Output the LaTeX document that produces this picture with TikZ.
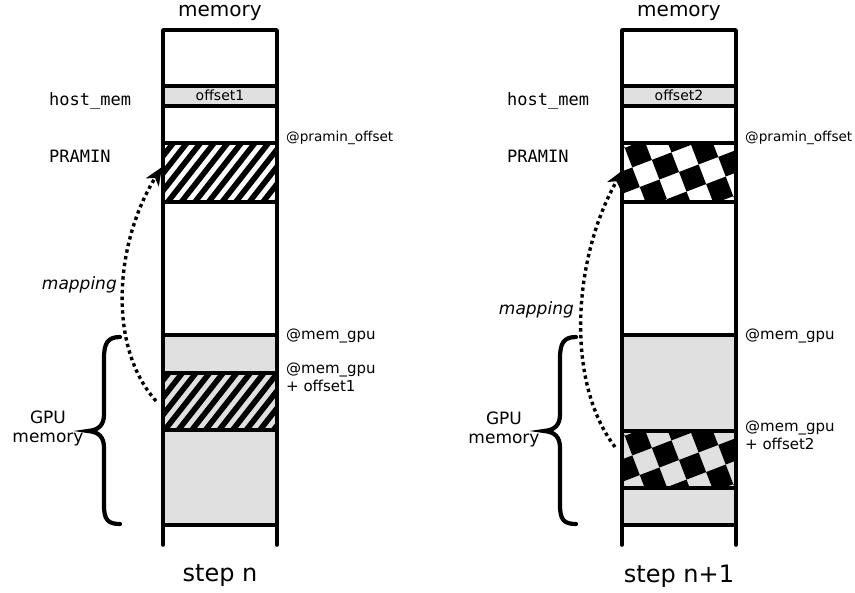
\documentclass[tikz,border=0pt]{standalone}
\usepackage{fontspec}
\setmainfont{DejaVu Sans}
\setmonofont{DejaVu Sans Mono}
\usetikzlibrary{arrows.meta}
\definecolor{memgray}{HTML}{E0E0E0}
\tikzset{
  col/.style={line width=3.6pt, line join=round, line cap=round},
  sepline/.style={line width=3.6pt},
  hatchline/.style={line width=5.6pt},
  lbl/.style={inner sep=0pt, font=\fontsize{15}{18}\selectfont},
  toplbl/.style={inner sep=0pt, font=\fontsize{20}{24}\selectfont},
  steplbl/.style={inner sep=0pt, font=\fontsize{24}{28}\selectfont},
  monolbl/.style={inner sep=0pt, font=\ttfamily\fontsize{17}{20}\selectfont},
  boxlbl/.style={inner sep=0pt, font=\fontsize{14}{17}\selectfont},
  offlbl/.style={inner sep=0pt, font=\fontsize{13.6}{16}\selectfont},
  siderlbl/.style={inner sep=0pt, font=\fontsize{17}{20}\selectfont},
  maplbl/.style={inner sep=0pt, font=\itshape\fontsize{17}{20}\selectfont},
  maparrow/.style={line width=3.4pt, dash pattern=on 3.4pt off 3.4pt, -{Stealth[length=18pt,width=15pt,inset=5pt]}},
  bracestyle/.style={line width=4.2pt, line cap=round},
}
\begin{document}
\begin{tikzpicture}[x=1pt,y=-1pt]
\useasboundingbox (0,0) rectangle (855,593);

% ---------------- left column (step n) ----------------
\fill[memgray] (163,86) rectangle (277,106);
\fill[memgray] (163,335) rectangle (277,525);
\begin{scope}
  \clip (163,143) rectangle (277,202);
  \fill[white] (163,143) rectangle (277,202);
  \foreach \i in {-6,...,10} \draw[hatchline] ({163+\i*13.6},208) -- ++(55,-70);
\end{scope}
\begin{scope}
  \clip (163,373) rectangle (277,430);
  \foreach \i in {-6,...,10} \draw[hatchline] ({160+\i*13.6},436) -- ++(55,-70);
\end{scope}
\foreach \yy in {86,106,143,202,335,373,430,525} \draw[sepline] (163,\yy) -- (277,\yy);
\draw[col] (163,545) -- (163,30) -- (277,30) -- (277,545);

% ---------------- right column (step n+1) ----------------
\fill[memgray] (622,86) rectangle (736,106);
\fill[memgray] (622,335) rectangle (736,525);
\begin{scope}
  \clip (622,143) rectangle (736,202);
  \fill[white] (622,143) rectangle (736,202);
  \begin{scope}[shift={(679,172)}, rotate=21]
    \foreach \i in {-5,...,4} \foreach \j in {-5,...,4} {
      \pgfmathtruncatemacro\chkpar{mod(\i+\j+20,2)}
      \ifnum\chkpar=0 \fill[black] ({\i*21},{\j*21}) rectangle ++(21,21); \fi
    }
  \end{scope}
\end{scope}
\begin{scope}
  \clip (622,431) rectangle (736,488);
  \fill[memgray] (622,431) rectangle (736,488);
  \begin{scope}[shift={(679,460)}, rotate=21]
    \foreach \i in {-5,...,4} \foreach \j in {-5,...,4} {
      \pgfmathtruncatemacro\chkpar{mod(\i+\j+20,2)}
      \ifnum\chkpar=0 \fill[black] ({\i*21},{\j*21}) rectangle ++(21,21); \fi
    }
  \end{scope}
\end{scope}
\foreach \yy in {86,106,143,202,335,431,488,525} \draw[sepline] (622,\yy) -- (736,\yy);
\draw[col] (622,545) -- (622,30) -- (736,30) -- (736,545);

% ---------------- braces ----------------
\draw[bracestyle] (120,337) .. controls (108,337) and (104,343) .. (104,358) -- (104,414)
  .. controls (104,425) and (99,430) .. (88,431) .. controls (99,432) and (104,437) .. (104,448)
  -- (104,505) .. controls (104,520) and (108,524) .. (120,524);
\draw[bracestyle] (576,337) .. controls (564,337) and (560,343) .. (560,358) -- (560,414)
  .. controls (560,425) and (555,430) .. (544,431) .. controls (555,432) and (560,437) .. (560,448)
  -- (560,505) .. controls (560,520) and (564,524) .. (576,524);

% ---------------- mapping arrows ----------------
\coordinate (mapLs) at (156,401);
\coordinate (mapLe) at (162,167);
\draw[maparrow] (mapLs) .. controls (106,345) and (116,240) .. (mapLe);
\coordinate (mapRs) at (615,447);
\coordinate (mapRe) at (623,170);
\draw[maparrow] (mapRs) .. controls (564,380) and (574,255) .. (mapRe);

% ---------------- labels left ----------------
\node[toplbl, anchor=base] (memL) at (220,17) {memory};
\node[monolbl, anchor=base west] (hostL) at (49,106) {host\_mem};
\node[monolbl, anchor=base west] (praminL) at (49,163) {PRAMIN};
\node[boxlbl, anchor=base] (offL) at (220,101) {offset1};
\node[offlbl, anchor=base west] (poffL) at (286,142) {@pramin\_offset};
\node[lbl, anchor=base west] (mgL) at (286,340) {@mem\_gpu};
\node[lbl, anchor=base west] (mgoLa) at (286,374) {@mem\_gpu};
\node[lbl, anchor=base west] (mgoLb) at (286,392) {+ offset1};
\node[maplbl, anchor=base east] (mapL) at (117,290) {mapping};
\node[siderlbl, anchor=base] (gpuLa) at (48,424) {GPU};
\node[siderlbl, anchor=base] (gpuLb) at (48,443) {memory};
\node[steplbl, anchor=base] (stepL) at (220,582) {step n};

% ---------------- labels right ----------------
\node[toplbl, anchor=base] (memR) at (679,17) {memory};
\node[monolbl, anchor=base west] (hostR) at (507,106) {host\_mem};
\node[monolbl, anchor=base west] (praminR) at (507,163) {PRAMIN};
\node[boxlbl, anchor=base] (offR) at (679,101) {offset2};
\node[offlbl, anchor=base west] (poffR) at (745,142) {@pramin\_offset};
\node[lbl, anchor=base west] (mgR) at (745,340) {@mem\_gpu};
\node[lbl, anchor=base west] (mgoRa) at (745,432) {@mem\_gpu};
\node[lbl, anchor=base west] (mgoRb) at (745,450) {+ offset2};
\node[maplbl, anchor=base east] (mapR) at (574,315) {mapping};
\node[siderlbl, anchor=base] (gpuRa) at (504,425) {GPU};
\node[siderlbl, anchor=base] (gpuRb) at (504,444) {memory};
\node[steplbl, anchor=base] (stepR) at (679,583) {step n+1};
\end{tikzpicture}
\end{document}
